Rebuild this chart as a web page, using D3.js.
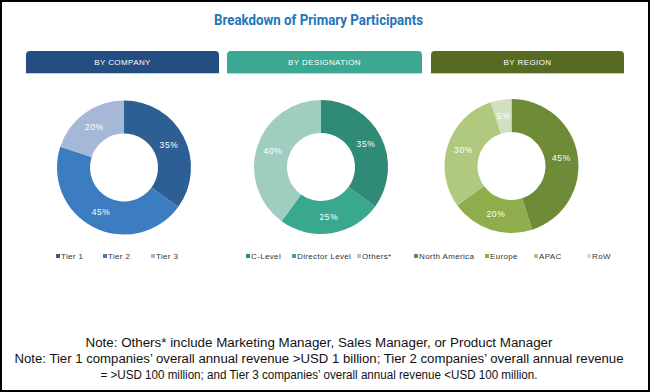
<!DOCTYPE html>
<html><head><meta charset="utf-8">
<script src="https://cdn.jsdelivr.net/npm/d3@7"></script>
<style>html,body{margin:0;padding:0;background:#fff;}svg{display:block;}</style>
</head><body>
<script>
const title = "Breakdown of Primary Participants";
const panelTitles = ["BY COMPANY", "BY DESIGNATION", "BY REGION"];
const companyLabels = ["Tier 1", "Tier 2", "Tier 3"];
const companyValues = [35, 45, 20];
const designationLabels = ["C-Level", "Director Level", "Others*"];
const designationValues = [35, 25, 40];
const regionLabels = ["North America", "Europe", "APAC", "RoW"];
const regionValues = [45, 20, 30, 5];
const notes = [
  "Note: Others* include Marketing Manager, Sales Manager, or Product Manager",
  "Note: Tier 1 companies’ overall annual revenue >USD 1 billion; Tier 2 companies’ overall annual revenue",
  "= >USD 100 million; and Tier 3 companies’ overall annual revenue <USD 100 million."
];

// styling / layout (separate from data)
const W = 650, H = 392;
const headerColors = ["#244d82", "#3aa893", "#566a22"];
const sliceColors = [
  ["#2d5f94", "#3b7dc0", "#a6b8d8"],
  ["#2f8a77", "#3aa88e", "#9fcec1"],
  ["#6e8b38", "#8dae4a", "#afc97e", "#d3dfc1"]
];
const panels = [
  {labels: companyLabels, values: companyValues, box: [26, 219], cx: 124, cy: 167.5, legendX: [56, 103, 151]},
  {labels: designationLabels, values: designationValues, box: [227, 422], cx: 321, cy: 167, legendX: [246, 292, 357]},
  {labels: regionLabels, values: regionValues, box: [431, 624], cx: 511.5, cy: 166, legendX: [414, 485, 534, 587]}
];
const outerR = 67, innerR = 34;

const svg = d3.select("body").append("svg").attr("width", W).attr("height", H);
svg.append("rect").attr("x", 1).attr("y", 1).attr("width", W - 2).attr("height", H - 2)
  .attr("fill", "#fff").attr("stroke", "#000").attr("stroke-width", 2);

svg.append("text").attr("x", 318.5).attr("y", 25).attr("text-anchor", "middle")
  .attr("font-family", "Roboto, Liberation Sans, sans-serif").attr("font-weight", "bold")
  .attr("font-size", 14).attr("fill", "#1f75b9")
  .attr("textLength", 209).attr("lengthAdjust", "spacingAndGlyphs").text(title);

const pie = d3.pie().sort(null).value(d => d);
const arc = d3.arc().innerRadius(innerR).outerRadius(outerR);
const labelArc = d3.arc().innerRadius((innerR + outerR) / 2).outerRadius((innerR + outerR) / 2);
const fmt = v => v + "%";

panels.forEach((p, i) => {
  const x0 = p.box[0], x1 = p.box[1], y0 = 51, y1 = 73, r = 4;
  svg.append("path")
    .attr("d", `M${x0},${y1} L${x0},${y0 + r} Q${x0},${y0} ${x0 + r},${y0} L${x1 - r},${y0} Q${x1},${y0} ${x1},${y0 + r} L${x1},${y1} Z`)
    .attr("fill", headerColors[i]);
  svg.append("line").attr("x1", x0).attr("x2", x1).attr("y1", y1 + 0.5).attr("y2", y1 + 0.5)
    .attr("stroke", "#c9cfc0").attr("stroke-width", 1);
  svg.append("text").attr("x", (x0 + x1) / 2).attr("y", 65).attr("text-anchor", "middle")
    .attr("font-family", "Liberation Sans, Arial, sans-serif").attr("font-size", 8)
    .attr("letter-spacing", 0.4).attr("fill", "#fff").text(panelTitles[i]);

  const g = svg.append("g").attr("transform", `translate(${p.cx},${p.cy})`);
  const arcs = pie(p.values);
  g.selectAll("path").data(arcs).join("path")
    .attr("d", arc).attr("fill", (d, j) => sliceColors[i][j]);
  g.selectAll("text").data(arcs).join("text")
    .attr("transform", d => `translate(${labelArc.centroid(d)})`)
    .attr("text-anchor", "middle").attr("dy", "0.35em")
    .attr("font-family", "Liberation Sans, Arial, sans-serif").attr("font-size", 8.5)
    .attr("letter-spacing", 0.6).attr("fill", "#fff")
    .text(d => fmt(d.data));

  const lg = svg.append("g");
  p.labels.forEach((lab, j) => {
    const lx = p.legendX[j];
    lg.append("rect").attr("x", lx).attr("y", 254).attr("width", 4).attr("height", 4)
      .attr("fill", sliceColors[i][j]);
    lg.append("text").attr("x", lx + 5).attr("y", 259)
      .attr("font-family", "Liberation Sans, Arial, sans-serif").attr("font-size", 8)
      .attr("letter-spacing", 0.35).attr("fill", "#333").text(lab);
  });
});

const noteWidths = [467, 609, 437];
const noteY = [347, 363, 379];
notes.forEach((t, i) => {
  svg.append("text").attr("x", 319).attr("y", noteY[i]).attr("text-anchor", "middle")
    .attr("font-family", "Liberation Sans Narrow, Arial Narrow, sans-serif").attr("font-size", 12.5)
    .attr("fill", "#111").attr("textLength", noteWidths[i]).attr("lengthAdjust", "spacingAndGlyphs").text(t);
});
</script>
</body></html>
